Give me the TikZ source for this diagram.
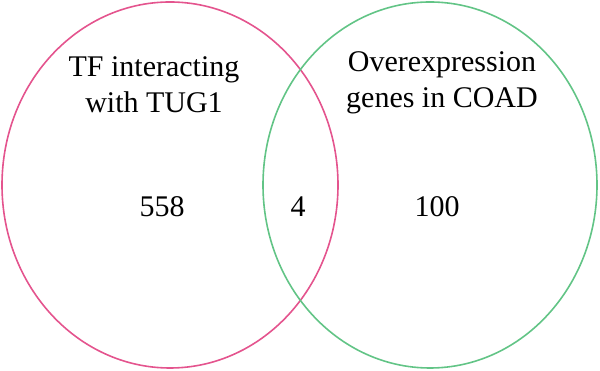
\documentclass[tikz,border=0pt]{standalone}
\usepackage{fontspec}
\setmainfont{Liberation Serif}
\usepackage{tikz}
\definecolor{leftcol}{RGB}{228,84,142}
\definecolor{rightcol}{RGB}{98,196,134}
\tikzset{every node/.style={font=\fontsize{30}{36}\selectfont, text=black}}

\begin{document}
\begin{tikzpicture}[x=1pt, y=1pt]

  % Page frame.
  \useasboundingbox (0,0) rectangle (600,371);

  % Sets.
  \draw[line width=1.6pt, leftcol] (170,186) ellipse [x radius=168, y radius=183];
  \draw[line width=1.6pt, rightcol] (430,186) ellipse [x radius=167, y radius=183];

  % Set titles (base = last line).
  \node[align=center, anchor=base] (tftitle) at (154,258)
    {TF interacting\\with TUG1};
  \node[align=center, anchor=base] (coadtitle) at (442,263)
    {Overexpression\\genes in COAD};

  % Counts.
  \node[anchor=base] (onlytf) at (162,154) {558};
  \node[anchor=base] (both) at (298,154) {4};
  \node[anchor=base] (onlycoad) at (437,154) {100};

\end{tikzpicture}
\end{document}
